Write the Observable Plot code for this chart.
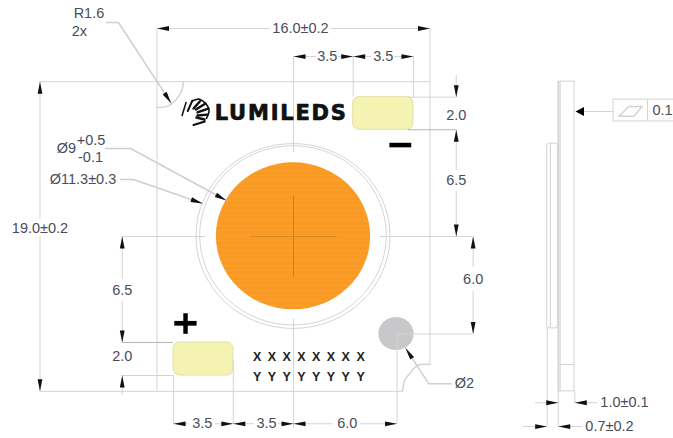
<!DOCTYPE html>
<html><head><meta charset="utf-8">
<style>
html,body{margin:0;padding:0;background:#fff}
.logo text{letter-spacing:1.8px}
</style>
<script src="https://cdn.jsdelivr.net/npm/d3@7"></script>
<script src="https://cdn.jsdelivr.net/npm/@observablehq/plot@0.6"></script>
</head><body><div id="chart"></div>
<script>
// All values are millimetres on the drawing, origin at the emitter centre.
const viewX = [-17.175, 22.274];
const viewY = [12.393, -14.479];

const pads = [[3.5, 7.03, -8.55, -6.55], [-7.03, -3.53, 6.5, 8.53]];
const emitter = [[-4.52, 4.52, -4.52, 4.5]];
const rings = [[-5.69, 5.69, -5.67, 5.67], [-5.47, 5.47, -5.54, 5.46]];
const hole = [[5.0, 7.07, 4.97, 7.0]];

// [y, x1, x2]
const lightH = [
  [-12.76, -8, -1.35], [-12.76, 2.23, 8],
  [-11.04, 0, 1.35], [-11.04, 2.64, 3.5], [-11.04, 3.5, 4.57], [-11.04, 5.92, 7.03],
  [11.49, -7.03, -6.15], [11.49, -4.57, -3.53], [11.49, -3.53, -2.29], [11.49, -0.88, 0], [11.49, 0, 2.29], [11.49, 3.93, 6.07],
  [-9.5, -14.86, 8], [9.5, -14.86, 6.39],
  [0, -10.04, -5.16], [0, 5.1, 10.53],
  [-8.55, 6.74, 9.54], [8.53, -10.04, -7.03], [5.98, 6.07, 10.53],
  [10.2, 14.19, 15.52], [10.2, 16.49, 17.82],
  [11.66, 13.48, 14.87], [11.66, 15.52, 16.92],
  [-7.67, 17.0, 18.76]
];
const darkH = [[-6.55, 6.74, 9.54], [6.5, -10.04, -7.03]];
// [x, y1, y2]
const lightV = [
  [-14.86, -9.5, -1.04], [-14.86, 0, 9.5],
  [-10.04, 0, 2.64], [-10.04, 3.99, 6.5], [-10.04, 8.53, 9.75],
  [9.54, -9.88, -8.55], [9.54, -6.55, -4.05], [9.54, -2.76, 0],
  [10.53, 0, 1.9], [10.53, 3.37, 5.98],
  [-8, -12.76, -7.91], [-8, -7.91, 9.5], [8, -12.76, 7.85],
  [0, -11.04, -5.15], [0, 5.09, 11.78],
  [3.5, -11.04, -8.55], [7.03, -11.04, -8.55],
  [-7.03, 8.53, 11.49], [-3.53, 7.6, 11.49], [6.07, 5.98, 11.49],
  [14.87, 5.64, 11.66], [15.52, 9.5, 11.66], [16.49, 9.5, 10.25],
  [15.06, -5.7, 5.64]
];
const crossH = [[0, -2.52, 2.58]];
const crossV = [[0, -2.5, 2.5]];

const leaders = [
  {id: "R", pts: [[-10.96, -13.13], [-10.26, -13.13], [-7.17, -8.18]]},
  {id: "O9", pts: [[-11.02, -5.4], [-9.55, -5.4], [-3.93, -2.21]]},
  {id: "O11", pts: [[-10.14, -3.5], [-9.38, -3.5], [-5.33, -2.02]]},
  {id: "O2", pts: [[9.24, 9.04], [7.93, 9.04], [6.57, 6.85]]}
];
const corners = [
  {id: "tl", pts: [[-8, -7.91], [-7.36, -8.0], [-6.9, -8.38], [-6.57, -8.9], [-6.45, -9.5]]},
  {id: "br", pts: [[8, 7.85], [7.3, 7.9], [6.86, 8.34], [6.53, 8.8], [6.39, 9.5]]}
];
// [x, y, heading in degrees]
const arrows = [
  [-8, -12.76, 180], [8, -12.76, 0],
  [0, -11.04, 180], [3.5, -11.04, 0], [3.5, -11.04, 180], [7.03, -11.04, 0],
  [-7.03, 11.49, 180], [-3.53, 11.49, 0], [-3.53, 11.49, 180], [0, 11.49, 0], [0, 11.49, 180], [6.07, 11.49, 0],
  [-14.86, -9.5, -90], [-14.86, 9.5, 90],
  [-10.04, 0, -90], [-10.04, 6.5, 90], [-10.04, 8.53, -90],
  [9.54, -8.55, 90], [9.54, -6.55, -90], [9.54, 0, 90],
  [10.53, 0, -90], [10.53, 5.98, 90],
  [-7.17, -8.18, 56.9], [-3.93, -2.21, 28.4], [-5.33, -2.02, 19.2], [6.57, 6.85, -123.2],
  [15.52, 10.2, 0], [16.49, 10.2, 180], [14.87, 11.66, 0], [15.52, 11.66, 180]
];
const flatnessArrow = [[16.53, -7.67, 180]];

// side view
const sideBody = [[15.53, 16.47, -9.5, 9.5]];
const sideStrip = [[15.53, 15.71, -9.5, 9.5]];
const sideBump = [[14.87, 15.52, -5.7, 5.64]];
const sideStep = [[7.85, 15.53, 16.47]];
const frame = [[18.76, 22.4, -8.4, -7.06]];
const frameDivider = [[20.75, -8.4, -7.06]];
const flatness = [[19.07, -7.38], [19.65, -7.98], [20.44, -7.98], [19.95, -7.38], [19.07, -7.38]];

const labels = [
  ["16.0±0.2", 0.41, -12.76], ["3.5", 1.98, -11.04], ["3.5", 5.26, -11.04],
  ["2.0", 9.54, -7.42], ["6.5", 9.54, -3.44], ["6.0", 10.53, 2.64],
  ["19.0±0.2", -14.86, -0.49], ["6.5", -10.04, 3.31], ["2.0", -10.04, 7.36],
  ["3.5", -5.35, 11.49], ["3.5", -1.58, 11.49], ["6.0", 3.15, 11.49], ["Ø2", 10.02, 9.02],
  ["1.0±0.1", 19.4, 10.2], ["0.7±0.2", 18.52, 11.66], ["0.1", 21.63, -7.73],
  ["Ø11.3±0.3", -12.34, -3.5], ["Ø9", -13.31, -5.4], ["+0.5", -11.87, -5.9], ["-0.1", -11.9, -4.86],
  ["R1.6", -11.99, -13.66], ["2x", -12.55, -12.58]
];
const logoWord = [["LUMILEDS", -0.72, -7.55]];
const logoStrokes = [
  {w: 1.5, pts: [[-6.53, -7.42], [-6.3, -8.22]]},
  {w: 2, pts: [[-6.2, -7.7], [-5.93, -8.34]]},
  {w: 2.4, pts: [[-5.86, -7.85], [-5.48, -8.3]]},
  {w: 2.4, pts: [[-5.72, -7.79], [-5.16, -8.16]]},
  {w: 2.4, pts: [[-5.63, -7.61], [-5.0, -7.85]]},
  {w: 2.4, pts: [[-5.63, -7.42], [-5.04, -7.48]]},
  {w: 2.4, pts: [[-5.69, -7.3], [-5.22, -7.18]]},
  {w: 2.2, pts: [[-5.86, -6.84], [-5.2, -7.06]]},
  {w: 1.6, pts: [[-5.86, -8.34], [-5.5, -8.42], [-5.1, -8.1], [-4.95, -7.7], [-5.1, -7.25]]}
];
const polarity = [
  [5.65, 6.93, -5.72, -5.44],
  [-6.96, -5.65, 5.21, 5.5],
  [-6.43, -6.17, 4.74, 6.0]
];
const binColumns = [-2.13, -1.26, -0.4, 0.47, 1.33, 2.2, 3.06, 3.93];
const binRows = [["X", 7.4], ["Y", 8.63]];

const flat = (list) => list.flatMap((o) => o.pts.map((p) => ({id: o.id, w: o.w, x: p[0], y: p[1]})));
const cells = binRows.flatMap(([t, y]) => binColumns.map((x) => [t, x, y]));
const head = {draw(c) { c.moveTo(0, 0); c.lineTo(-12, -2.4); c.lineTo(-12, 2.4); c.closePath(); }};
const bigHead = {draw(c) { c.moveTo(0, 0); c.lineTo(-8.5, -4.6); c.lineTo(-8.5, 4.6); c.closePath(); }};
const rectOf = {x1: (d) => d[0], x2: (d) => d[1], y1: (d) => d[2], y2: (d) => d[3]};
const hOf = {y: (d) => d[0], x1: (d) => d[1], x2: (d) => d[2]};
const vOf = {x: (d) => d[0], y1: (d) => d[1], y2: (d) => d[2]};
const font = "Liberation Sans, Arial, sans-serif";
const LINE = "#d3d3d3";

// faint horizontal banding of the phosphor surface
const stripeDefs = () => {
  const ns = "http://www.w3.org/2000/svg";
  const defs = document.createElementNS(ns, "defs");
  defs.innerHTML = '<pattern id="phosphor" width="8" height="5" patternUnits="userSpaceOnUse">' +
    '<rect width="8" height="5" fill="#f99a24"/><rect width="8" height="1" fill="#fa9f30"/></pattern>';
  return defs;
};

const chart = Plot.plot({
  width: 673, height: 438, margin: 0,
  x: {axis: null, domain: viewX},
  y: {axis: null, domain: viewY},
  style: {background: "#fff"},
  marks: [
    stripeDefs,
    Plot.rect(hole, {...rectOf, fill: "#c8c8ca", rx: 18, ry: 17}),
    Plot.rect(rings, {...rectOf, fill: "none", stroke: "#d5d5d5", rx: 97, ry: 93}),
    Plot.rect(emitter, {...rectOf, fill: "url(#phosphor)", rx: 78, ry: 74}),
    Plot.rect(pads, {...rectOf, fill: "#f5f3b2", stroke: "#e3e0a8", rx: 6, ry: 6}),
    Plot.rect(sideStrip, {...rectOf, fill: "#e2e2e2"}),
    Plot.rect(sideBody, {...rectOf, fill: "none", stroke: LINE}),
    Plot.rect(sideBump, {...rectOf, fill: "none", stroke: LINE, rx: 3, ry: 3}),
    Plot.rect(frame, {...rectOf, fill: "none", stroke: LINE}),
    Plot.ruleX(frameDivider, {...vOf, stroke: LINE}),
    Plot.line(flatness, {x: (d) => d[0], y: (d) => d[1], stroke: LINE}),
    Plot.ruleY(sideStep, {...hOf, stroke: LINE}),
    Plot.ruleY(lightH, {...hOf, stroke: LINE}),
    Plot.ruleX(lightV, {...vOf, stroke: LINE}),
    Plot.ruleY(darkH, {...hOf, stroke: "#b4b4b4"}),
    Plot.ruleY(crossH, {...hOf, stroke: "#d98a2c"}),
    Plot.ruleX(crossV, {...vOf, stroke: "#b9823e"}),
    Plot.line(flat(leaders), {x: "x", y: "y", z: "id", stroke: "#cfcfcf"}),
    Plot.line(flat(corners), {x: "x", y: "y", z: "id", stroke: LINE, curve: "natural"}),
    Plot.dot(arrows, {x: (d) => d[0], y: (d) => d[1], rotate: (d) => d[2], r: 1, symbol: head, fill: "#111", stroke: "none"}),
    Plot.dot(flatnessArrow, {x: (d) => d[0], y: (d) => d[1], rotate: (d) => d[2], r: 1, symbol: bigHead, fill: "#000", stroke: "none"}),
    ...logoStrokes.map((s) => Plot.line(s.pts, {x: (d) => d[0], y: (d) => d[1], stroke: "#111", strokeWidth: s.w, curve: s.pts.length > 2 ? "natural" : "linear"})),
    Plot.rect(polarity, {...rectOf, fill: "#000"}),
    Plot.text(logoWord, {text: (d) => d[0], x: (d) => d[1], y: (d) => d[2], fontFamily: "DejaVu Sans", fontWeight: "bold", fontSize: 21, fill: "#111", stroke: "#111", strokeWidth: 0.7, className: "logo"}),
    Plot.text(cells, {text: (d) => d[0], x: (d) => d[1], y: (d) => d[2], fontFamily: font, fontWeight: "bold", fontSize: 12.5, fill: "#222"}),
    Plot.text(labels, {text: (d) => d[0], x: (d) => d[1], y: (d) => d[2], fontFamily: font, fontSize: 14.5, fill: "#4a4d58"})
  ]
});
document.getElementById("chart").appendChild(chart);
</script></body></html>
